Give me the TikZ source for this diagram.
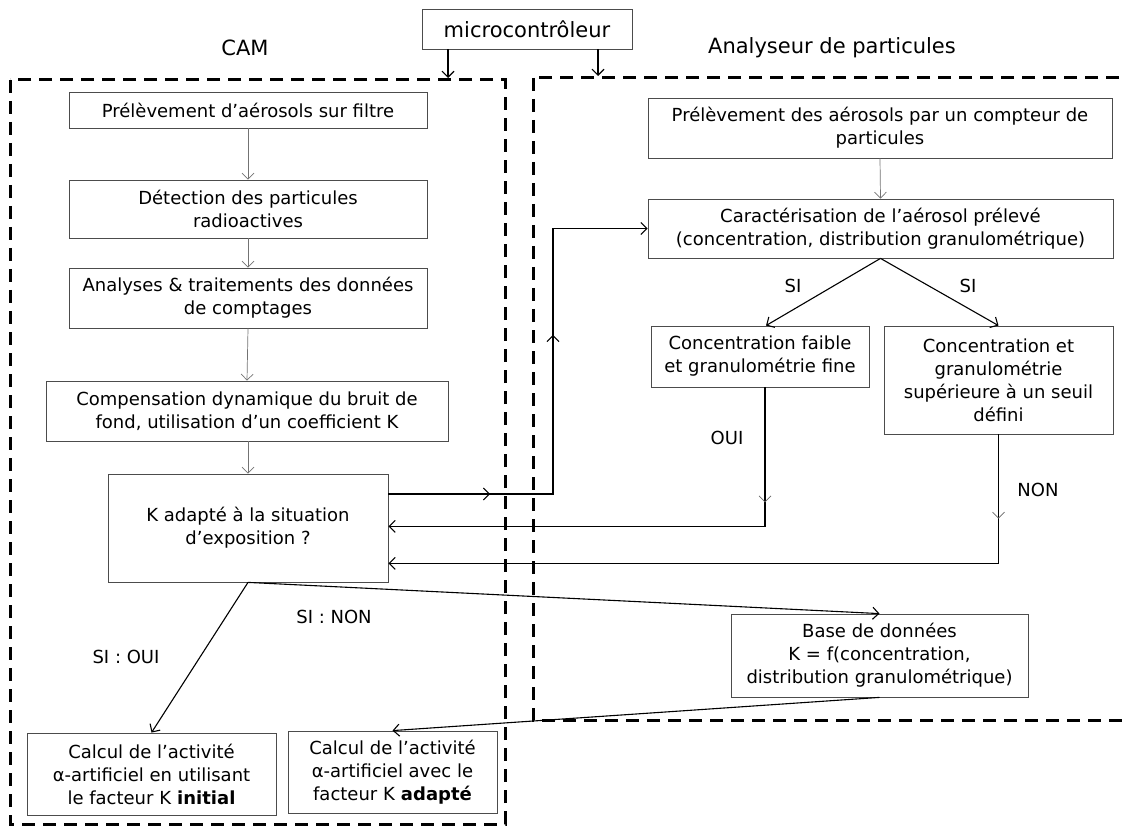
\documentclass[tikz,border=0pt]{standalone}
\usepackage{fontspec}
\setmainfont{DejaVu Sans}
\usetikzlibrary{arrows.meta,calc,decorations.markings}
\begin{document}
\begin{tikzpicture}[x=1pt,y=-1pt,
  box/.style={draw=black!70, line width=0.8pt, align=center, inner sep=2pt,
    font=\fontsize{18}{23}\selectfont},
  garrow/.style={draw=black!55, line width=0.7pt, -{Straight Barb[length=6pt,width=12pt]}},
  barrow/.style={draw=black, line width=1.1pt, -{Straight Barb[length=6pt,width=12pt]}},
  lbl/.style={font=\fontsize{18}{20}\selectfont},
  ttl/.style={font=\fontsize{21}{24}\selectfont},
  frame/.style={line width=3pt, dash pattern=on 13pt off 8pt}]
\useasboundingbox (0,0) rectangle (1127,826);

% frames
\draw[frame] (10,80) rectangle (505,824);
\draw[frame] (533,78) rectangle (1150,720);

% titles
\node[box, minimum width=210pt, minimum height=40pt, font=\fontsize{21}{24}\selectfont] (micro) at (527,29) {microcontrôleur};
\node[ttl] (cam) at (245,48) {CAM};
\node[ttl] (ana) at (832,48) {Analyseur de particules};

% left column
\node[box, minimum width=358pt, minimum height=36pt] (b1) at (248,110) {Prélèvement d’aérosols sur filtre};
\node[box, minimum width=358pt, minimum height=58pt] (b2) at (248,209) {Détection des particules\\radioactives};
\node[box, minimum width=358pt, minimum height=60pt] (b3) at (248,298) {Analyses \& traitements des données\\de comptages};
\node[box, minimum width=402pt, minimum height=60pt] (b4) at (247,411) {Compensation dynamique du bruit de\\fond, utilisation d’un coefficient K};
\node[box, minimum width=280pt, minimum height=108pt] (K) at (248,528) {K adapté à la situation\\d’exposition ?};
\node[box, minimum width=249pt, minimum height=82pt] (c1) at (151.5,774) {Calcul de l’activité\\α-artificiel en utilisant\\le facteur K \textbf{initial}};
\node[box, minimum width=209pt, minimum height=82pt] (c2) at (392.5,772) {Calcul de l’activité\\α-artificiel avec le\\facteur K \textbf{adapté}};

% right column
\node[box, minimum width=464pt, minimum height=60pt] (A) at (880,128) {Prélèvement des aérosols par un compteur de\\particules};
\node[box, minimum width=465pt, minimum height=59pt] (B) at (880.5,228.5) {Caractérisation de l’aérosol prélevé\\(concentration, distribution granulométrique)};
\node[box, minimum width=218pt, minimum height=61pt] (C) at (760,356.5) {Concentration faible\\et granulométrie fine};
\node[box, minimum width=229pt, minimum height=108pt] (D) at (998.5,380) {Concentration et\\granulométrie\\supérieure à un seuil\\défini};
\node[box, minimum width=297pt, minimum height=83pt] (E) at (879.5,655.5) {Base de données\\K = f(concentration,\\distribution granulométrique)};

% labels
\node[lbl] (si1) at (793,286) {SI};
\node[lbl] (si2) at (968,286) {SI};
\node[lbl] (oui) at (727,438) {OUI};
\node[lbl] (non) at (1038,490) {NON};
\node[lbl] (sioui) at (126,657) {SI : OUI};
\node[lbl] (sinon) at (334,617) {SI : NON};

% micro arrows
\coordinate (mL) at (448,78);
\coordinate (mR) at (598,76);
\draw[barrow] (micro.south -| mL) -- (mL);
\draw[barrow] (micro.south -| mR) -- (mR);

% left column arrows
\draw[garrow] (b1.south) -- (b2.north);
\draw[garrow] (b2.south) -- (b3.north);
\draw[garrow] (b3.south) -- (b4.north);
\draw[garrow] (b4.south -| K.north) -- (K.north);
\draw[garrow] (A.south) -- (B.north);

% K -> B loop
\coordinate (k1) at ($(K.east)+(0,-34)$);
\coordinate (up) at (553,494);
\draw[barrow, line join=miter, postaction={decorate},
  decoration={markings,
    mark=at position 0.194 with {\arrow{Straight Barb[length=6pt,width=12pt]}},
    mark=at position 0.617 with {\arrow{Straight Barb[length=6pt,width=12pt]}}}]
  (k1) -- (up) -- (up |- B.west) -- (B.west);

% C -> K
\coordinate (cs) at ($(C.south)+(5,0)$);
\coordinate (cturn) at ($(cs)+(0,139)$);
\draw[barrow, line join=miter, postaction={decorate},
  decoration={markings,
    mark=at position 0.223 with {\arrow[black!60,line width=0.7pt]{Straight Barb[length=6pt,width=12pt]}}}]
  (cs) -- (cturn) -- (cturn -| K.east);

% D -> K
\coordinate (dturn) at ($(D.south)+(0,129)$);
\draw[barrow, line join=miter, postaction={decorate},
  decoration={markings,
    mark=at position 0.114 with {\arrow[black!60,line width=0.7pt]{Straight Barb[length=6pt,width=12pt]}}}]
  (D.south) -- (dturn) -- (dturn -| K.east);

% SI branches
\draw[barrow] (B.south) -- ($(C.north)+(6,0)$);
\draw[barrow] (B.south) -- (D.north);

% K outputs
\draw[barrow] (K.south) -- (c1.north);
\draw[barrow] (K.south) -- (E.north);
\draw[barrow] (E.south) -- (c2.north);
\end{tikzpicture}
\end{document}
